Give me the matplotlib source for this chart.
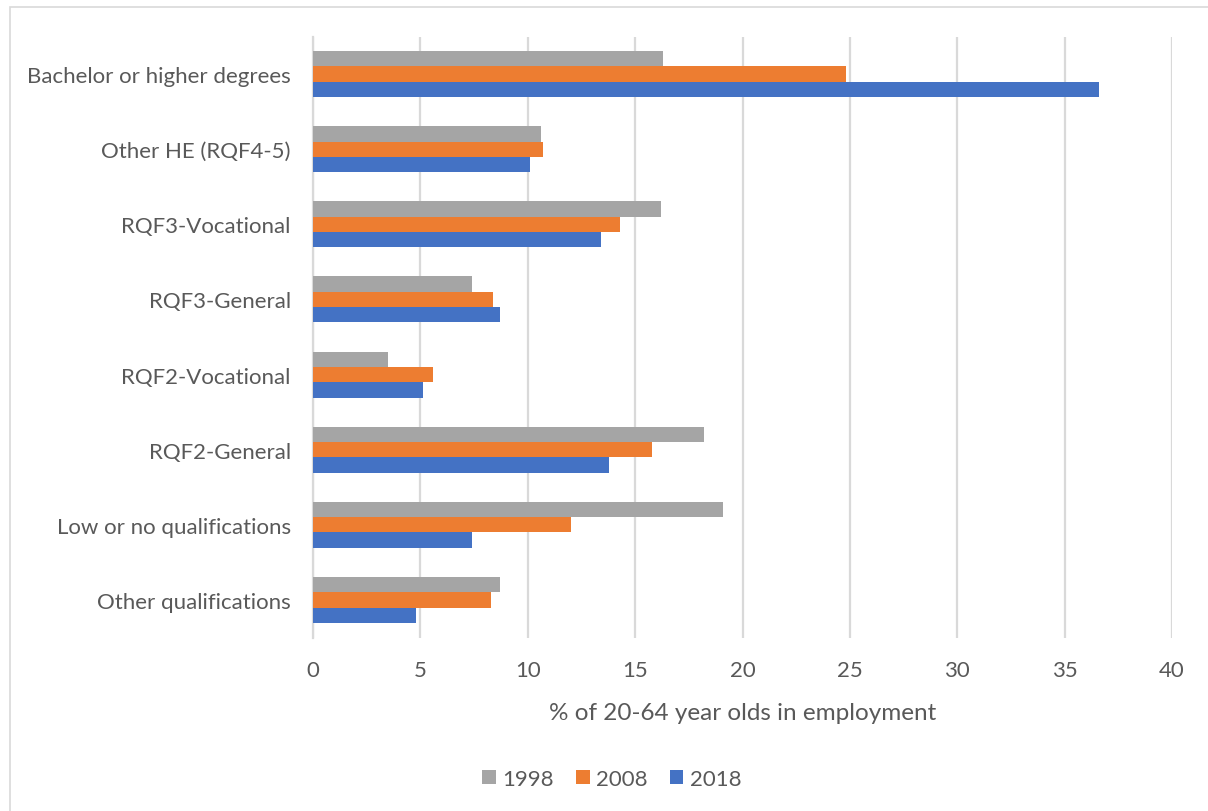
import matplotlib
matplotlib.use("Agg")
import matplotlib.pyplot as plt
from matplotlib.patches import Rectangle
import numpy as np

categories = ["Bachelor or higher degrees", "Other HE (RQF4-5)", "RQF3-Vocational",
              "RQF3-General", "RQF2-Vocational", "RQF2-General",
              "Low or no qualifications", "Other qualifications"]
years = ["1998", "2008", "2018"]
v1998 = [16.3, 10.6, 16.2, 7.4, 3.5, 18.2, 19.1, 8.7]
v2008 = [24.8, 10.7, 14.3, 8.4, 5.6, 15.8, 12.0, 8.3]
v2018 = [36.6, 10.1, 13.4, 8.7, 5.1, 13.8, 7.4, 4.8]
xticks = [0, 5, 10, 15, 20, 25, 30, 35, 40]

colors = ["#A5A5A5", "#ED7D31", "#4472C4"]
text_color = "#595959"
grid_color = "#D9D9D9"

plt.rcParams['font.family'] = ['Lato', 'DejaVu Sans']

fig = plt.figure(figsize=(12.08, 8.12), dpi=100)
ax = fig.add_axes([313 / 1208, 1 - 638.5 / 812, (1172 - 313) / 1208, (638.5 - 37.5) / 812])

n = len(categories)
pos = np.arange(n)
bh = 0.204
series = [v1998, v2008, v2018]
for i, (vals, col, lab) in enumerate(zip(series, colors, years)):
    ax.barh(pos + (i - 1) * bh, vals, height=bh, color=col, label=lab, zorder=3)

ax.set_ylim(n - 0.5, -0.5)
ax.set_xlim(0, 40)
ax.set_xticks(xticks)
ax.set_xticklabels([str(t) for t in xticks])
ax.set_yticks(pos)
ax.set_yticklabels(categories)
ax.tick_params(axis='both', length=0, labelsize=16, colors=text_color)
ax.tick_params(axis='x', pad=16)
ax.tick_params(axis='y', pad=16)
ax.grid(axis='x', color=grid_color, linewidth=1.6, zorder=0)
for s in ['top', 'right', 'bottom']:
    ax.spines[s].set_visible(False)
ax.spines['left'].set_color(grid_color)
ax.spines['left'].set_linewidth(1.6)
ax.set_xlabel("% of 20-64 year olds in employment", fontsize=17.5, color=text_color, labelpad=16)

leg = fig.legend(loc='center', bbox_to_anchor=(612 / 1208, 1 - 780 / 812), ncol=3,
                 frameon=False, fontsize=16, handlelength=0.6, handleheight=0.6,
                 handletextpad=0.3, columnspacing=1.0)
for t in leg.get_texts():
    t.set_color(text_color)

fig.patches.append(Rectangle((10 / 1208, -0.01), 1.2, 1 - 8 / 812 + 0.01,
                             transform=fig.transFigure, fill=False,
                             edgecolor=grid_color, linewidth=1.2))

fig.savefig("out.png", dpi=100, facecolor='white')
